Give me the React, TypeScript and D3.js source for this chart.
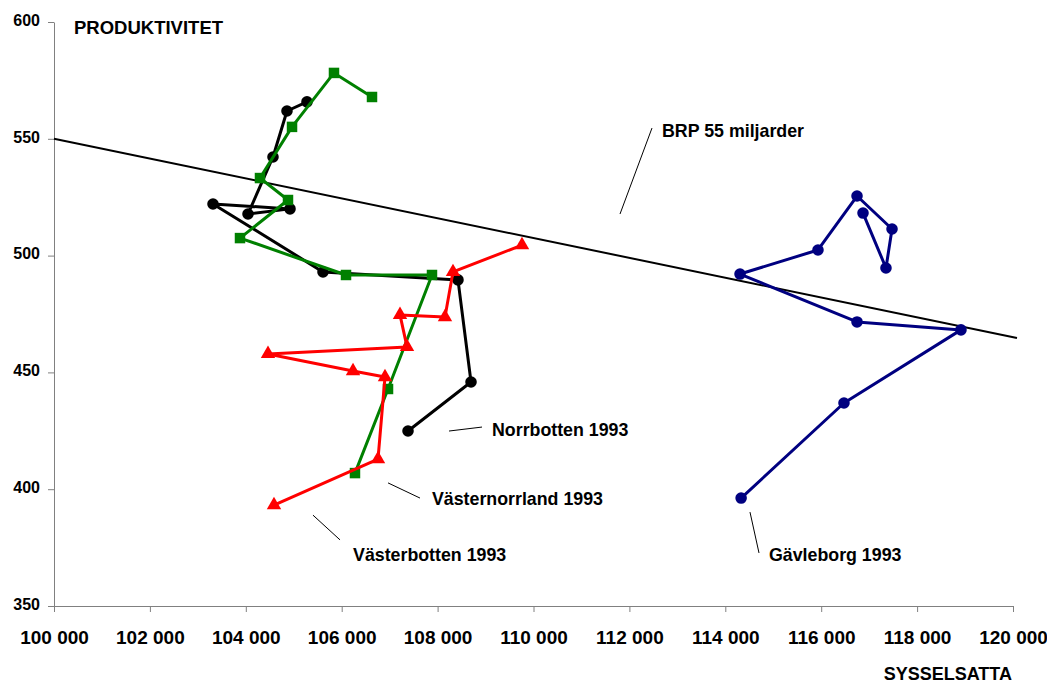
import React, { useEffect, useRef } from 'react';
import * as d3 from 'd3';

// Sysselsatta (x) and produktivitet (y), first point = 1993
const gavleborg: [number, number][] = [
  [114330, 396.2], [116475, 436.9], [118915, 468.2], [116747, 471.6], [114307, 492.1],
  [115933, 502.4], [116747, 525.5], [117477, 511.4], [117351, 494.7], [116872, 518.2],
];
const norrbotten: [number, number][] = [
  [107383, 424.9], [108697, 445.9], [108425, 489.6], [105610, 493.0], [103316, 522.1],
  [104922, 520.0], [104046, 517.8], [104567, 542.2], [104859, 561.9], [105276, 565.8],
];
const vasternorrland: [number, number][] = [
  [106277, 406.9], [106966, 442.9], [107883, 491.7], [106090, 491.7], [103879, 507.5],
  [104880, 523.8], [104296, 533.2], [104964, 555.1], [105839, 578.2], [106632, 567.9],
];
const vasterbotten: [number, number][] = [
  [104588, 393.2], [106757, 412.9], [106903, 448.0], [106236, 450.6], [104463, 457.9],
  [107362, 460.9], [107216, 474.6], [108154, 473.7], [108321, 493.0], [109760, 504.5],
];
// BRP 55 miljarder reference line
const brpLine: [number, number][] = [[100000, 550], [120083, 464.7]];

const xTicks = d3.range(100000, 120001, 2000);
const yTicks = [350, 400, 450, 500, 550, 600];

// label text anchor + leader line (data units)
const annotations = [
  { text: 'BRP 55 miljarder', at: [112680, 550.8], from: [112471, 554.6], to: [111804, 517.8] },
  { text: 'Norrbotten 1993', at: [109135, 422.8], from: [108926, 426.6], to: [108238, 424.9] },
  { text: 'Västernorrland 1993', at: [107883, 393.2], from: [107633, 396.2], to: [106966, 402.7] },
  { text: 'Västerbotten 1993', at: [106236, 369.3], from: [105965, 378.3], to: [105401, 388.9] },
  { text: 'Gävleborg 1993', at: [114911, 369.3], from: [114703, 372.7], to: [114515, 390.2] },
];

const W = 1047;
const H = 684;
const FONT = 'Liberation Sans, Arial, sans-serif';

const App: React.FC = () => {
  const svgRef = useRef<SVGSVGElement>(null);

  useEffect(() => {
    if (!svgRef.current) return;
    const svg = d3.select(svgRef.current);
    svg.selectAll('*').remove();

    const x = d3.scaleLinear().domain([100000, 120000]).range([54, 1013]);
    const y = d3.scaleLinear().domain([350, 600]).range([606, 22]);

    // axes
    const fmt = (v: number) => d3.format(',')(v).replace(',', ' ');
    const xAxis = svg.append('g').attr('transform', `translate(0,${y(350)})`)
      .call(d3.axisBottom(x).tickValues(xTicks).tickSize(6).tickSizeOuter(0).tickFormat(d => fmt(d as number)));
    xAxis.select('.domain').attr('stroke', '#808080');
    xAxis.selectAll('.tick line').attr('stroke', '#808080');
    xAxis.selectAll('.tick text')
      .attr('dy', 0).attr('y', 38)
      .attr('font-family', FONT).attr('font-weight', 'bold').attr('font-size', 19).attr('fill', '#000');

    const yAxis = svg.append('g').attr('transform', `translate(${x(100000)},0)`)
      .call(d3.axisLeft(y).tickValues(yTicks).tickSize(6).tickSizeOuter(0).tickFormat(d => String(d)));
    yAxis.select('.domain').attr('stroke', '#808080');
    yAxis.selectAll('.tick line').attr('stroke', '#808080');
    yAxis.selectAll('.tick text')
      .attr('x', -14).attr('dy', '0.2em')
      .attr('font-family', FONT).attr('font-weight', 'bold').attr('font-size', 16).attr('fill', '#000');

    svg.append('text').attr('x', 74).attr('y', 34)
      .attr('font-family', FONT).attr('font-weight', 'bold').attr('font-size', 18.5)
      .text('PRODUKTIVITET');
    svg.append('text').attr('x', 1012).attr('y', 680).attr('text-anchor', 'end')
      .attr('font-family', FONT).attr('font-weight', 'bold').attr('font-size', 18)
      .text('SYSSELSATTA');

    const line = d3.line<[number, number]>().x(d => x(d[0])).y(d => y(d[1]));

    // BRP line
    svg.append('path').datum(brpLine).attr('d', line)
      .attr('fill', 'none').attr('stroke', '#000').attr('stroke-width', 2);

    const series = [
      { data: gavleborg, color: '#000080', shape: 'circle' },
      { data: norrbotten, color: '#000000', shape: 'circle' },
      { data: vasternorrland, color: '#008000', shape: 'square' },
      { data: vasterbotten, color: '#ff0000', shape: 'triangle' },
    ];

    const symbols: Record<string, d3.SymbolType> = {
      circle: d3.symbolCircle,
      square: d3.symbolSquare,
      triangle: d3.symbolTriangle,
    };
    const sizes: Record<string, number> = { circle: 105, square: 110, triangle: 90 };

    series.forEach(s => {
      svg.append('path').datum(s.data).attr('d', line)
        .attr('fill', 'none').attr('stroke', s.color).attr('stroke-width', 3)
        .attr('stroke-linejoin', 'round');
      svg.append('g').selectAll('path').data(s.data).join('path')
        .attr('transform', d => `translate(${x(d[0])},${y(d[1])})`)
        .attr('d', d3.symbol().type(symbols[s.shape]).size(sizes[s.shape])())
        .attr('fill', s.color);
    });

    // annotations
    annotations.forEach(a => {
      svg.append('line')
        .attr('x1', x(a.from[0])).attr('y1', y(a.from[1]))
        .attr('x2', x(a.to[0])).attr('y2', y(a.to[1]))
        .attr('stroke', '#000').attr('stroke-width', 1);
      svg.append('text').attr('x', x(a.at[0])).attr('y', y(a.at[1]))
        .attr('font-family', FONT).attr('font-weight', 'bold').attr('font-size', 17.8)
        .text(a.text);
    });
  }, []);

  return (
    <div style={{ position: 'fixed', left: 0, top: 0, width: W, height: H, background: '#fff' }}>
      <svg ref={svgRef} width={W} height={H} style={{ display: 'block' }} />
    </div>
  );
};

export default App;
